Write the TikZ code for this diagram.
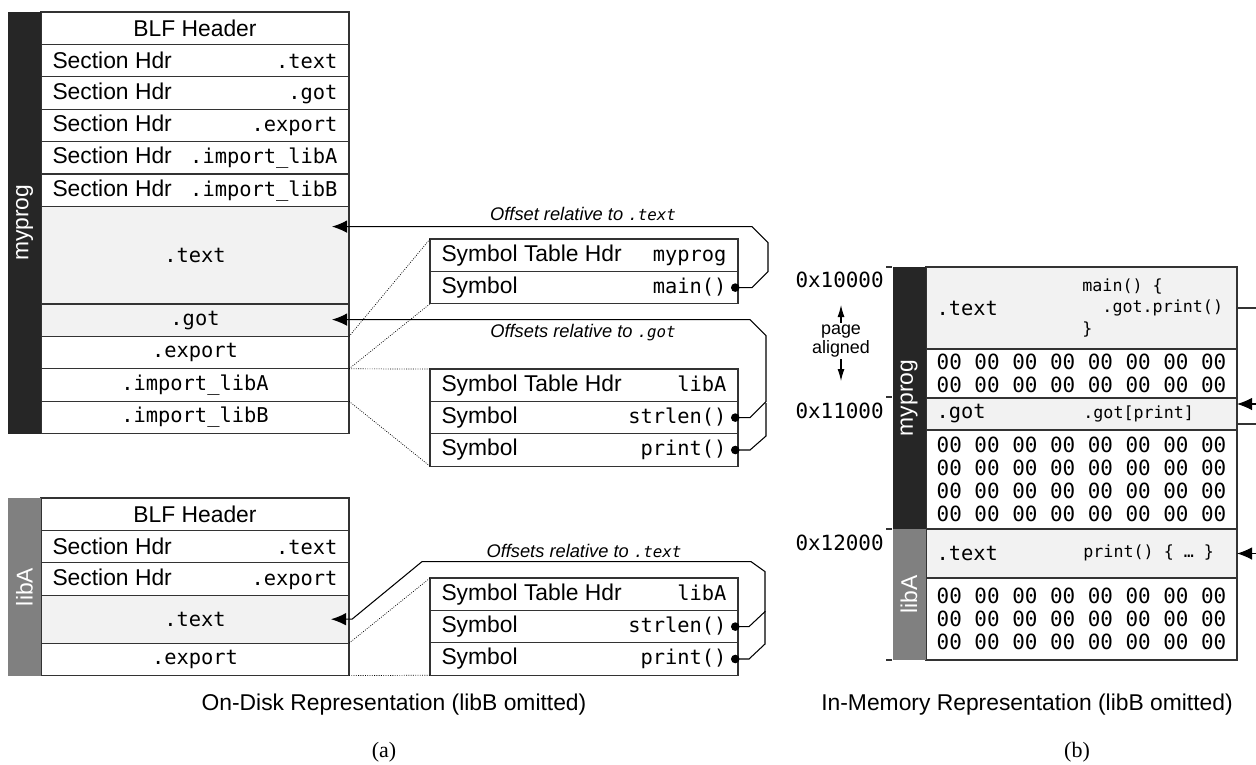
\documentclass[tikz,border=0pt]{standalone}
\usepackage{fontspec}
\setmainfont{Liberation Sans}
\setmonofont{DejaVu Sans Mono}
\newfontfamily\capfont{Liberation Serif}
\usepackage{xcolor}
\usepackage{tikz}
\usetikzlibrary{arrows.meta,positioning,calc}

\definecolor{framec}{HTML}{333333}
\definecolor{secfill}{HTML}{F2F2F2}
\definecolor{progbar}{HTML}{262626}
\definecolor{libbar}{HTML}{808080}

\newcommand{\cellfont}{\fontsize{13}{15.6}\selectfont}
\newcommand{\tm}[1]{{\fontsize{11.6}{14}\selectfont\ttfamily #1}}
\newcommand{\us}{\symbol{95}}
\newcommand{\sechdr}[1]{\makebox[57mm][s]{Section Hdr\hfill\tm{#1}}}
\newcommand{\symhdr}[1]{\makebox[57mm][s]{Symbol Table Hdr\hfill\tm{#1}}}
\newcommand{\symrow}[1]{\makebox[57mm][s]{Symbol\hfill\tm{#1}}}
\newcommand{\memlab}[1]{\makebox[58mm][l]{\tm{#1}}}
\newcommand{\zl}{00 00 00 00 00 00 00 00}

\begin{document}
\begin{tikzpicture}[x=0.2mm, y=-0.2mm,
    cell/.style={draw=framec, line width=0.65pt, fill=white, minimum width=61.6mm, minimum height=6.48mm,
      inner sep=0pt, outer sep=0pt, anchor=north west, font=\cellfont},
    sec/.style={cell, fill=secfill},
    mcell/.style={cell, minimum width=62.2mm},
    zrow/.style={mcell, align=left, font=\fontsize{11.9}{13.1}\selectfont\ttfamily},
    bar/.style={rotate=90, minimum height=6.6mm, inner sep=0pt, outer sep=0pt, text=white, font=\cellfont},
    code/.style={font=\fontsize{9.5}{12.5}\selectfont\ttfamily, align=left, inner sep=0pt, anchor=west},
    addr/.style={font=\fontsize{11.9}{14}\selectfont\ttfamily, anchor=north east, inner sep=0pt},
    offlab/.style={font=\fontsize{10.4}{12}\selectfont\itshape, inner sep=0pt},
    capt/.style={font=\cellfont, anchor=base, inner sep=0pt},
    frame/.style={draw=framec, line width=0.65pt},
    conn/.style={draw=black, line width=0.6pt, -{Latex[length=3mm,width=2.5mm]}},
    dotconn/.style={draw=black, line width=0.6pt, {Circle[length=1.7mm]}-{Latex[length=3mm,width=2.5mm]}},
    dotonly/.style={draw=black, line width=0.6pt, {Circle[length=1.7mm]}-},
    spanline/.style={draw=black, line width=0.4pt, dash pattern=on 0.5pt off 0.8pt}]
    \useasboundingbox (0,0) rectangle (1256,764);

    % myprog on disk
    \node[cell] (phdr) at (41,12) {BLF Header};
    \node[cell, below=0pt of phdr] (psh1) {\sechdr{.text}};
    \node[cell, below=0pt of psh1] (psh2) {\sechdr{.got}};
    \node[cell, below=0pt of psh2] (psh3) {\sechdr{.export}};
    \node[cell, below=0pt of psh3] (psh4) {\sechdr{.import\us libA}};
    \node[cell, below=0pt of psh4] (psh5) {\sechdr{.import\us libB}};
    \node[sec, below=0pt of psh5, minimum height=19.52mm] (ptext) {\tm{.text}};
    \node[sec, below=0pt of ptext] (pgot) {\tm{.got}};
    \node[cell, below=0pt of pgot] (pexp) {\tm{.export}};
    \node[cell, below=0pt of pexp] (pimpa) {\tm{.import\us libA}};
    \node[cell, below=0pt of pimpa] (pimpb) {\tm{.import\us libB}};
    \node[bar, fill=progbar, minimum width=84.3mm] (pbar) at (24.5,222.8) {myprog};

    \node[cell] (symhdr) at (430,239) {\symhdr{myprog}};
    \node[cell, below=0pt of symhdr] (smain) {\symrow{main()}};
    \node[cell] (simphdr) at (430,369) {\symhdr{libA}};
    \node[cell, below=0pt of simphdr] (sstrlen) {\symrow{strlen()}};
    \node[cell, below=0pt of sstrlen] (sprint) {\symrow{print()}};

    % libA on disk
    \node[cell] (lhdr) at (41,498) {BLF Header};
    \node[cell, below=0pt of lhdr] (lsh1) {\sechdr{.text}};
    \node[cell, below=0pt of lsh1] (lsh2) {\sechdr{.export}};
    \node[sec, below=0pt of lsh2, minimum height=9.6mm] (ltext) {\tm{.text}};
    \node[cell, below=0pt of ltext] (lexp) {\tm{.export}};
    \node[bar, fill=libbar, minimum width=35.6mm] (lbar) at (24.5,587) {libA};

    \node[cell] (lsymhdr) at (430,578) {\symhdr{libA}};
    \node[cell, below=0pt of lsymhdr] (lsstrlen) {\symrow{strlen()}};
    \node[cell, below=0pt of lsstrlen] (lsprint) {\symrow{print()}};

    \draw[spanline] (pexp.north east) -- (symhdr.north west);
    \draw[spanline] (pexp.south east) -- (smain.south west);
    \draw[spanline] (pimpa.north east) -- (simphdr.north west);
    \draw[spanline] (pimpa.south east) -- (sprint.south west);
    \draw[spanline] (lexp.north east) -- (lsymhdr.north west);
    \draw[spanline] (lexp.south east) -- (lsprint.south west);

    \coordinate (ptextin) at ($(ptext.east)+(-17,0)$);
    \coordinate (pgotin) at ($(pgot.east)+(-17,0)$);
    \coordinate (ltextin) at ($(ltext.east)+(-18,0)$);
    \draw[dotconn] ($(smain.east)+(-7,0)$) -- ++(21,0) -- ++(16,-16) -- ++(0,-29) -- ++(-16,-16) coordinate (t1) -- (ptextin |- t1);
    \draw[dotconn] ($(sstrlen.east)+(-7,0)$) -- ++(19,0) -- ++(16,-16) -- ++(0,-66) -- ++(-16,-16) coordinate (t2) -- (pgotin |- t2);
    \draw[dotonly] ($(sprint.east)+(-7,0)$) -- ++(19,0) -- ++(16,-14) -- ++(0,-33);
    \draw[dotconn] ($(lsstrlen.east)+(-7,0)$) -- ++(18,0) -- ++(16,-15) -- ++(0,-40) -- ++(-14,-10) -- ++(-329,0) -- ($(ltext.east)+(3,0)$) -- (ltextin);
    \draw[dotonly] ($(lsprint.east)+(-7,0)$) -- ++(18,0) -- ++(16,-15) -- ++(0,-33);

    \node[offlab] (offtext) at (583,214) {Offset relative to {\fontsize{9}{10}\selectfont\ttfamily .text}};
    \node[offlab] (offgot) at (583,333) {Offsets relative to {\fontsize{9}{10}\selectfont\ttfamily .got}};
    \node[offlab] (offltext) at (584,551) {Offsets relative to {\fontsize{9}{10}\selectfont\ttfamily .text}};

    % in memory
    \node[mcell, fill=secfill, minimum height=16.4mm] (mtext) at (926,267) {\memlab{.text}};
    \node[zrow, below=0pt of mtext, minimum height=9.8mm] (mz1) {\zl\\\zl};
    \node[mcell, fill=secfill, below=0pt of mz1, minimum height=6.4mm] (mgot) {\memlab{.got}};
    \node[zrow, below=0pt of mgot, minimum height=19.8mm] (mz2) {\zl\\\zl\\\zl\\\zl};
    \node[mcell, fill=secfill, below=0pt of mz2, minimum height=9.8mm] (mltext) {\memlab{.text}};
    \node[zrow, below=0pt of mltext, minimum height=16.4mm] (mz3) {\zl\\\zl\\\zl};
    \node[bar, fill=progbar, minimum width=52.4mm] (mbar) at (909,398) {myprog};
    \node[bar, fill=libbar, minimum width=26.2mm] (mlbar) at (909,594.5) {libA};

    \node[code] (maincode) at (1082,308) {main() \{\\\phantom{..}.got.print()\\\}};
    \node[code] (gotcode) at (1083,414) {.got[print]};
    \node[code] (printcode) at (1083,553) {print() \{ … \}};

    \node[addr] (a1) at (884,272) {0x10000};
    \node[addr] (a2) at (884,403) {0x11000};
    \node[addr] (a3) at (884,535) {0x12000};
    \draw[frame] (886,267) -- (892,267);
    \draw[frame] (886,397) -- (892,397);
    \draw[frame] (886,529) -- (892,529);
    \draw[frame] (886,660) -- (892,660);

    \node[font=\fontsize{10.2}{10.5}\selectfont, align=center, inner sep=1pt] (pgal) at (841,341) {page\\aligned};
    \coordinate (pgup) at (841,305);
    \coordinate (pgdn) at (841,381);
    \draw[-{Latex[length=2.4mm,width=1.4mm]}, line width=0.6pt] (pgal.north) -- (pgup);
    \draw[-{Latex[length=2.4mm,width=1.4mm]}, line width=0.6pt] (pgal.south) -- (pgdn);

    \coordinate (redge) at (1256,0);
    \draw[frame] (mtext.east) -- (mtext.east -| redge);
    \draw[conn] ($(mgot.north east -| redge)+(0,6)$) -- ($(mgot.north east)+(0,6)$);
    \draw[frame] ($(mgot.south east)+(0,-6)$) -- ($(mgot.south east -| redge)+(0,-6)$);
    \draw[conn] (mltext.east -| redge) -- (mltext.east);

    \node[capt] (cdisk) at (394,710) {On-Disk Representation (libB omitted)};
    \node[capt] (cmem) at (1027,710) {In-Memory Representation (libB omitted)};
    \node[anchor=base, inner sep=0pt, font=\capfont\fontsize{12.5}{14}\selectfont] (capa) at (384,757) {(a)};
    \node[anchor=base, inner sep=0pt, font=\capfont\fontsize{12.5}{14}\selectfont] (capb) at (1077,757) {(b)};
\end{tikzpicture}
\end{document}
